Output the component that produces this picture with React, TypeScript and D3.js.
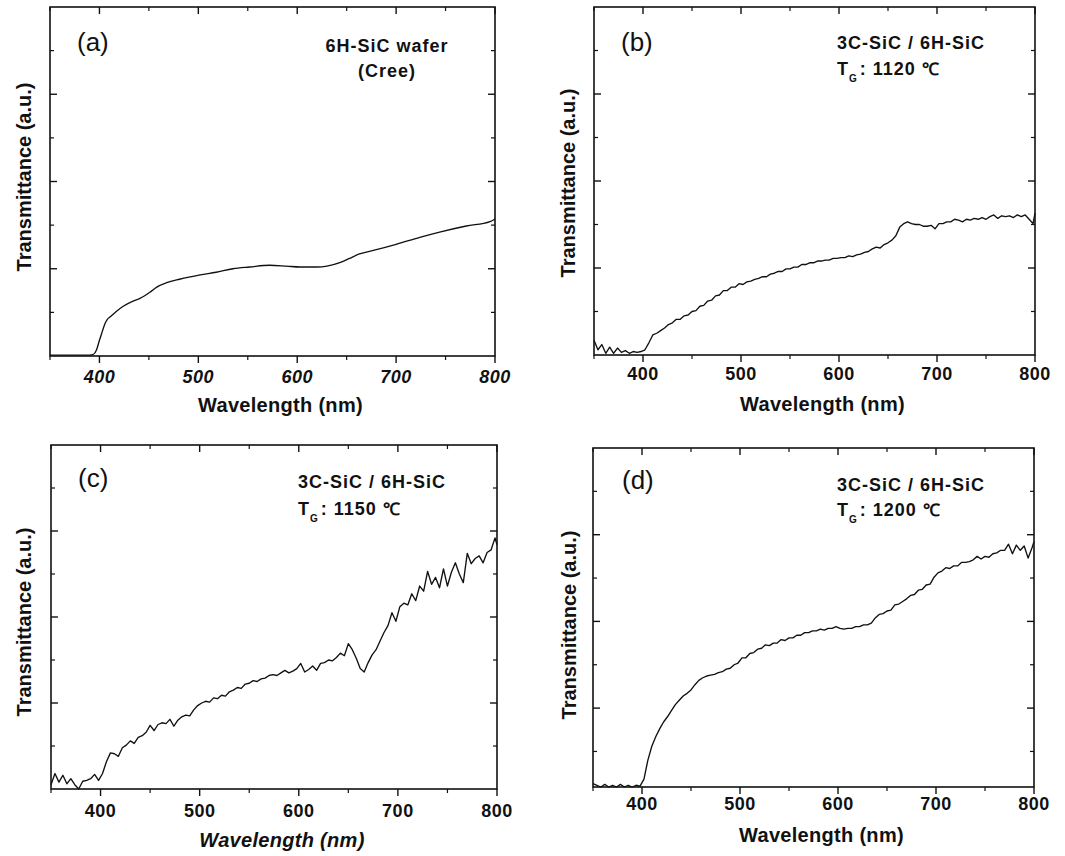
import React from 'react';
import * as d3 from 'd3';

// ---------- data ----------
const X_TICKS_MAJOR = [400, 500, 600, 700, 800];
const X_TICKS_MINOR = [350, 450, 550, 650, 750];
const Y_TICKS_MAJOR = [1, 2, 3];
const Y_TICKS_MINOR = [0.5, 1.5, 2.5, 3.5];

// Panel (a): smooth spectrum of the 6H-SiC wafer
const WL_A = [350, 370, 390, 394, 397, 400, 402, 404, 406, 408, 411, 417, 424, 434, 441, 451, 458, 468, 481, 502,
  518, 535, 552, 572, 589, 603, 620, 630, 643, 653, 663, 677, 700, 724, 744, 771, 795, 800];
const T_A = [0.01, 0.01, 0.01, 0.02, 0.07, 0.18, 0.25, 0.32, 0.38, 0.42, 0.45, 0.51, 0.57, 0.63, 0.66, 0.73, 0.79, 0.84, 0.88, 0.93,
  0.96, 1.00, 1.02, 1.04, 1.03, 1.02, 1.02, 1.03, 1.07, 1.12, 1.17, 1.21, 1.28, 1.36, 1.42, 1.49, 1.54, 1.57];

// Panels (b)-(d): wavelength sampling (nm)
const WL_GRID = [...d3.range(350, 800, 4), 800];

const T_B = [
  0.17, 0.06, 0.12, 0.02, 0.09, 0.02, 0.08, 0.03, 0.05, 0.02,
  0.04, 0.03, 0.04, 0.06, 0.14, 0.23, 0.25, 0.28, 0.31, 0.35,
  0.37, 0.41, 0.41, 0.45, 0.46, 0.50, 0.51, 0.56, 0.57, 0.62,
  0.63, 0.68, 0.69, 0.74, 0.74, 0.78, 0.78, 0.82, 0.81, 0.84,
  0.85, 0.87, 0.88, 0.90, 0.90, 0.93, 0.94, 0.96, 0.96, 0.99,
  0.99, 1.01, 1.01, 1.04, 1.04, 1.06, 1.06, 1.08, 1.08, 1.09,
  1.09, 1.11, 1.11, 1.12, 1.12, 1.14, 1.13, 1.15, 1.16, 1.18,
  1.19, 1.22, 1.24, 1.23, 1.27, 1.29, 1.32, 1.37, 1.47, 1.51,
  1.53, 1.51, 1.50, 1.50, 1.48, 1.48, 1.49, 1.45, 1.51, 1.51,
  1.53, 1.53, 1.56, 1.55, 1.53, 1.56, 1.55, 1.57, 1.56, 1.58,
  1.56, 1.59, 1.61, 1.57, 1.60, 1.59, 1.60, 1.58, 1.61, 1.59,
  1.61, 1.56, 1.51, 1.63,
];

const T_C = [
  0.05, 0.18, 0.08, 0.16, 0.06, 0.12, 0.05, 0.00, 0.09, 0.10,
  0.12, 0.17, 0.10, 0.18, 0.32, 0.42, 0.41, 0.38, 0.48, 0.51,
  0.56, 0.53, 0.60, 0.62, 0.66, 0.74, 0.68, 0.75, 0.77, 0.76,
  0.81, 0.73, 0.80, 0.84, 0.86, 0.85, 0.92, 0.97, 1.00, 1.02,
  1.01, 1.06, 1.05, 1.09, 1.08, 1.13, 1.15, 1.18, 1.17, 1.22,
  1.23, 1.26, 1.25, 1.28, 1.29, 1.32, 1.33, 1.32, 1.35, 1.38,
  1.35, 1.37, 1.40, 1.46, 1.36, 1.39, 1.43, 1.38, 1.46, 1.47,
  1.50, 1.49, 1.53, 1.58, 1.55, 1.69, 1.62, 1.52, 1.40, 1.36,
  1.47, 1.56, 1.62, 1.72, 1.82, 1.90, 2.05, 1.95, 2.12, 2.16,
  2.14, 2.27, 2.19, 2.36, 2.30, 2.53, 2.38, 2.46, 2.34, 2.56,
  2.36, 2.52, 2.63, 2.50, 2.40, 2.74, 2.62, 2.68, 2.71, 2.63,
  2.75, 2.78, 2.92, 2.84,
];

const T_D = [
  0.13, 0.11, 0.09, 0.12, 0.09, 0.11, 0.09, 0.12, 0.09, 0.11,
  0.09, 0.11, 0.10, 0.18, 0.40, 0.56, 0.67, 0.76, 0.84, 0.90,
  0.97, 1.04, 1.09, 1.14, 1.17, 1.21, 1.27, 1.32, 1.35, 1.37,
  1.38, 1.39, 1.41, 1.42, 1.45, 1.46, 1.50, 1.52, 1.58, 1.58,
  1.63, 1.64, 1.68, 1.69, 1.73, 1.72, 1.75, 1.75, 1.79, 1.78,
  1.81, 1.81, 1.84, 1.84, 1.87, 1.87, 1.89, 1.89, 1.91, 1.90,
  1.92, 1.92, 1.94, 1.92, 1.91, 1.92, 1.92, 1.94, 1.94, 1.96,
  1.96, 1.98, 2.04, 2.08, 2.09, 2.12, 2.13, 2.19, 2.20, 2.23,
  2.26, 2.30, 2.31, 2.36, 2.37, 2.42, 2.43, 2.51, 2.56, 2.58,
  2.62, 2.61, 2.64, 2.64, 2.68, 2.68, 2.69, 2.71, 2.75, 2.72,
  2.75, 2.74, 2.78, 2.79, 2.82, 2.82, 2.89, 2.78, 2.88, 2.82,
  2.87, 2.73, 2.85, 2.92,
];

const X_TITLE = 'Wavelength (nm)';
const Y_TITLE = 'Transmittance (a.u.)';

// ---------- layout ----------
type PanelCfg = {
  label: string;
  line1: string;
  line2?: string;
  temp?: string;
  wl: number[];
  vals: number[];
  smooth: boolean;
  left: number; right: number; top: number; bottom: number;
  yMin: number;
  labelX: number; labelY: number;
  annX: number; annY1: number; annY2: number; annCenter?: boolean;
  tickBase: number; titleBase: number; yTitleX: number; yTitleY: number;
  italicTicks: boolean; italicTitle: boolean;
};

const PANELS: PanelCfg[] = [
  {
    label: '(a)', line1: '6H-SiC wafer', line2: '(Cree)', wl: WL_A, vals: T_A, smooth: true,
    left: 50, right: 495, top: 7, bottom: 356, yMin: 0,
    labelX: 77, labelY: 51, annX: 387, annY1: 52, annY2: 77, annCenter: true,
    tickBase: 383, titleBase: 412, yTitleX: 31, yTitleY: 177,
    italicTicks: true, italicTitle: false,
  },
  {
    label: '(b)', line1: '3C-SiC / 6H-SiC', temp: '1120', wl: WL_GRID, vals: T_B, smooth: false,
    left: 594, right: 1035, top: 7, bottom: 355, yMin: 0,
    labelX: 621, labelY: 51, annX: 837, annY1: 49, annY2: 75,
    tickBase: 380, titleBase: 411, yTitleX: 575, yTitleY: 183,
    italicTicks: false, italicTitle: false,
  },
  {
    label: '(c)', line1: '3C-SiC / 6H-SiC', temp: '1150', wl: WL_GRID, vals: T_C, smooth: false,
    left: 51, right: 497, top: 445, bottom: 789, yMin: 0,
    labelX: 78, labelY: 487, annX: 298, annY1: 488, annY2: 515,
    tickBase: 817, titleBase: 847, yTitleX: 31, yTitleY: 622,
    italicTicks: false, italicTitle: true,
  },
  {
    label: '(d)', line1: '3C-SiC / 6H-SiC', temp: '1200', wl: WL_GRID, vals: T_D, smooth: false,
    left: 593, right: 1034, top: 448, bottom: 787, yMin: 0.09,
    labelX: 622, labelY: 489, annX: 837, annY1: 491, annY2: 516,
    tickBase: 810, titleBase: 842, yTitleX: 576, yTitleY: 625,
    italicTicks: false, italicTitle: false,
  },
];

const FONT = '"Liberation Sans", Arial, Helvetica, sans-serif';
const INK = '#111';

function Panel({ p }: { p: PanelCfg }) {
  const x = d3.scaleLinear().domain([350, 800]).range([p.left, p.right]);
  const y = d3.scaleLinear().domain([p.yMin, 4]).range([p.bottom, p.top]);
  const pts: [number, number][] = p.wl.map((w, i) => [w, p.vals[i]]);
  const line = d3
    .line<[number, number]>()
    .x((d) => x(d[0]))
    .y((d) => y(d[1]))
    .curve(p.smooth ? d3.curveMonotoneX : d3.curveLinear);

  const MAJ = 7;
  const MIN = 4;

  return (
    <g>
      {/* curve */}
      <path d={line(pts) || ''} fill="none" stroke={INK} strokeWidth={1.35} strokeLinejoin="round" />
      {/* frame */}
      <rect x={p.left} y={p.top} width={p.right - p.left} height={p.bottom - p.top} fill="none" stroke={INK} strokeWidth={1.6} />
      {/* x ticks: bottom outward, top inward */}
      {X_TICKS_MAJOR.map((t) => (
        <g key={'xM' + t}>
          <line x1={x(t)} x2={x(t)} y1={p.bottom} y2={p.bottom + MAJ} stroke={INK} strokeWidth={1.4} />
          <line x1={x(t)} x2={x(t)} y1={p.top} y2={p.top + MAJ} stroke={INK} strokeWidth={1.4} />
          <text
            x={x(t)}
            y={p.tickBase}
            textAnchor="middle"
            fontFamily={FONT}
            fontWeight="bold"
            fontStyle={p.italicTicks ? 'italic' : 'normal'}
            fontSize={18}
            letterSpacing={0.5}
            fill={INK}
          >
            {t}
          </text>
        </g>
      ))}
      {X_TICKS_MINOR.map((t) => (
        <g key={'xm' + t}>
          <line x1={x(t)} x2={x(t)} y1={p.bottom} y2={p.bottom + MIN} stroke={INK} strokeWidth={1.2} />
          <line x1={x(t)} x2={x(t)} y1={p.top} y2={p.top + MIN} stroke={INK} strokeWidth={1.2} />
        </g>
      ))}
      {/* y ticks: inward on both sides */}
      {Y_TICKS_MAJOR.map((t) => (
        <g key={'yM' + t}>
          <line x1={p.left} x2={p.left + MAJ} y1={y(t)} y2={y(t)} stroke={INK} strokeWidth={1.4} />
          <line x1={p.right} x2={p.right - MAJ} y1={y(t)} y2={y(t)} stroke={INK} strokeWidth={1.4} />
        </g>
      ))}
      {Y_TICKS_MINOR.map((t) => (
        <g key={'ym' + t}>
          <line x1={p.left} x2={p.left + MIN} y1={y(t)} y2={y(t)} stroke={INK} strokeWidth={1.2} />
          <line x1={p.right} x2={p.right - MIN} y1={y(t)} y2={y(t)} stroke={INK} strokeWidth={1.2} />
        </g>
      ))}
      {/* axis titles */}
      <text
        x={(p.left + p.right) / 2 + 8}
        y={p.titleBase}
        textAnchor="middle"
        fontFamily={FONT}
        fontWeight="bold"
        fontStyle={p.italicTitle ? 'italic' : 'normal'}
        fontSize={20}
        letterSpacing={0.3}
        fill={INK}
      >
        {X_TITLE}
      </text>
      <text
        transform={`translate(${p.yTitleX},${p.yTitleY}) rotate(-90)`}
        textAnchor="middle"
        fontFamily={FONT}
        fontWeight="bold"
        fontSize={20}
        fill={INK}
      >
        {Y_TITLE}
      </text>
      {/* panel label */}
      <text x={p.labelX} y={p.labelY} fontFamily={FONT} fontSize={26} fill={INK}>
        {p.label}
      </text>
      {/* annotation */}
      <text
        x={p.annX}
        y={p.annY1}
        textAnchor={p.annCenter ? 'middle' : 'start'}
        fontFamily={FONT}
        fontWeight="bold"
        fontSize={18}
        letterSpacing={1}
        fill={INK}
      >
        {p.line1}
      </text>
      {p.line2 && (
        <text x={p.annX} y={p.annY2} textAnchor="middle" fontFamily={FONT} fontWeight="bold" fontSize={18} letterSpacing={1} fill={INK}>
          {p.line2}
        </text>
      )}
      {p.temp && (
        <text x={p.annX} y={p.annY2} fontFamily={FONT} fontWeight="bold" fontSize={18} letterSpacing={1} fill={INK}>
          <tspan>T</tspan>
          <tspan fontSize={10} dy={7} letterSpacing={0}>G</tspan>
          <tspan dy={-7} dx={3}>{': ' + p.temp + ' '}</tspan>
          <tspan fontSize={17} letterSpacing={0}>℃</tspan>
        </text>
      )}
    </g>
  );
}

export default function App() {
  return (
    <svg
      width={1065}
      height={856}
      viewBox="0 0 1065 856"
      style={{ position: 'absolute', left: 0, top: 0, background: '#fff' }}
    >
      <rect x={0} y={0} width={1065} height={856} fill="#fff" />
      {PANELS.map((p) => (
        <Panel key={p.label} p={p} />
      ))}
    </svg>
  );
}
